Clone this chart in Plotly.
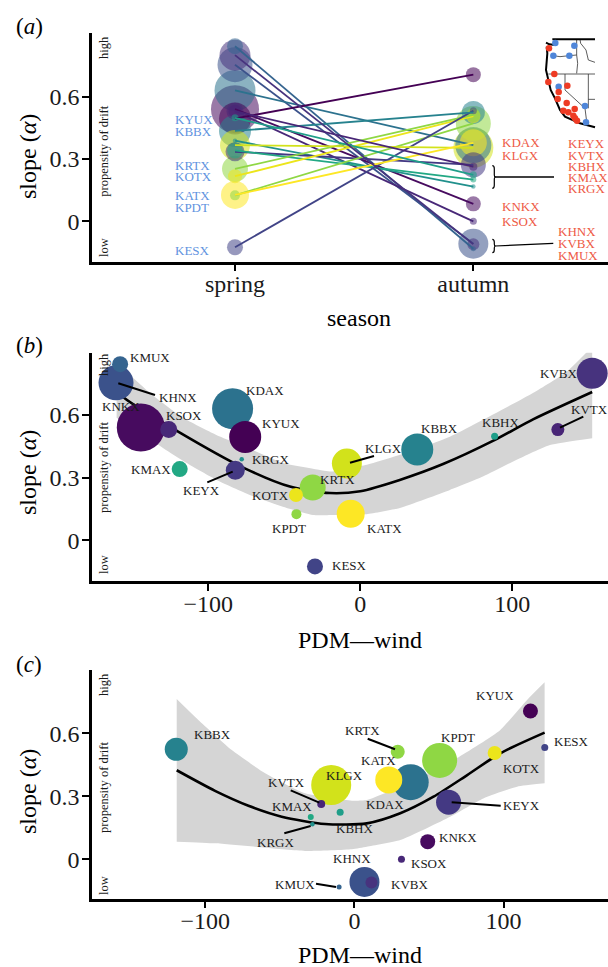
import plotly.graph_objects as go

W, H = 608, 967
FONT = "Liberation Serif"

# ---- data -------------------------------------------------------------
radars = ["KMUX","KHNX","KNKX","KSOX","KDAX","KYUX","KRGX","KEYX","KMAX","KOTX",
          "KPDT","KRTX","KESX","KLGX","KATX","KBBX","KBHX","KVTX","KVBX"]
colors = ["#35648f","#3b528b","#470b5f","#482878","#2c728e","#440154","#21908c","#443983","#22a884","#ece51b",
          "#8fd744","#8fd744","#414487","#d2e21b","#fde725","#26828e","#1f9e89","#482576","#47337e"]
wind_spring = [-158,-160.7,-144.4,-126,-84,-75.7,-78,-82.2,-118.8,-42.3,
               -42,-31.3,-29.8,-8.8,-6.3,37.5,88.4,130,152.6]
slope_spring = [0.843,0.754,0.540,0.530,0.630,0.495,0.388,0.335,0.341,0.217,
                0.125,0.2525,-0.125,0.367,0.127,0.435,0.498,0.530,0.800]
size_spring = [16,35,48,17,41,32,4.5,19,16,14,10,26,16,30,28,32,7,13,31]
wind_autumn = [-10.3,6.7,49.1,31.5,37.7,118,-28.2,63.1,-29.3,94,
               57.1,29,127.6,-15.6,23,-119.5,-9.6,-22.3,11.4]
slope_autumn = [-0.132,-0.108,0.084,0.0,0.367,0.706,0.167,0.272,0.201,0.506,
                0.471,0.512,0.532,0.354,0.378,0.524,0.224,0.263,-0.110]
size_autumn = [5,30,15,7,36,15,4.5,25,6,14,35,14,7,40,27,23,7,8,12]

b_curve_x = [-160.3,-155,-120.4,-77,-46.3,-20,0,26,54.5,87.6,114,152.6]
b_curve_y = [0.72,0.68,0.523,0.348,0.257,0.226,0.235,0.289,0.365,0.477,0.580,0.710]
b_up_x = [-160.3,-151.5,-138.4,-116.6,-95,-68.2,-50.9,-26.5,-18,4.2,26.1,59,113.6,135.8,152.6]
b_up_y = [0.863,0.792,0.705,0.586,0.505,0.424,0.370,0.337,0.329,0.361,0.409,0.496,0.705,0.807,0.927]
b_lo_x = [-160.3,-129.8,-114.2,-94.5,-72.6,-50.9,-31.1,-18,4.2,26.1,59,80.7,102.9,124.8,152.6]
b_lo_y = [0.586,0.442,0.370,0.289,0.217,0.161,0.121,0.121,0.125,0.155,0.241,0.305,0.385,0.456,0.489]

c_curve_x = [-119.2,-93.5,-71.1,-48.8,-19.7,8.3,30.7,53,75.6,97.8,127.5]
c_curve_y = [0.424,0.326,0.255,0.203,0.168,0.171,0.219,0.298,0.401,0.505,0.603]
c_up_x = [-119.2,-104.7,-82.3,-59.9,-33.1,-1.7,8.3,30.7,68.7,97.8,115.7,127.5]
c_up_y = [0.763,0.663,0.520,0.410,0.314,0.279,0.282,0.345,0.482,0.616,0.759,0.843]
c_lo_x = [-119.2,-93.5,-59.9,-33.1,-1.7,8.3,30.7,64.2,86.4,109,127.5]
c_lo_y = [0.084,0.076,0.055,0.040,0.048,0.060,0.092,0.203,0.290,0.346,0.362]

# inset map (own small axis)
map_blue_x = [76,133,70,118,86,165,168]
map_blue_y = [39,47,77,77,170,228,277]
map_red_x = [57,73,55,112,86,83,110,100,115,134,130,135,141]
map_red_y = [55,132,156,167,186,207,219,242,247,237,257,265,272]
map_coast_x = [48,58,75,None,50,52,48,55,62,75,90,105,125,150,195]
map_coast_y = [38,43,45,None,50,70,120,150,180,205,240,260,270,280,292]
map_border_x = [67,195]
map_border_y = [28,28]
map_states = [
    ([70,90,118,140,143,140],[77,80,77,75,100,130]),
    ([150,152,168,175,195],[28,40,60,90,97]),
    ([140,140],[28,75]),
    ([55,195],[132,132]),
    ([105,105,165,170],[132,180,235,275]),
    ([175,175],[132,235]),
    ([175,195],[208,208]),
]

# ---- helpers ----------------------------------------------------------
def fx(p): return p / W
def fy(p): return 1 - p / H

fig = go.Figure()
annos, shapes = [], []

def text(s, x, y, size=13, color="#1a1a1a", angle=0, anchor="center"):
    annos.append(dict(text=s, x=fx(x), y=fy(y), xref="paper", yref="paper", showarrow=False,
                      font=dict(family=FONT, size=size, color=color), textangle=angle,
                      xanchor=anchor, yanchor="middle", align="center"))

def seg(x0, y0, x1, y1, w=2):
    shapes.append(dict(type="line", xref="paper", yref="paper", x0=fx(x0), y0=fy(y0), x1=fx(x1), y1=fy(y1),
                       line=dict(color="black", width=w)))

def bracket(x, y0, y1, tip):
    m = (y0 + y1) / 2
    path = (f"M {fx(x)} {fy(y0)} Q {fx(x+2)} {fy(y0)} {fx(x+2)} {fy(y0+3)} L {fx(x+2)} {fy(m-2)} "
            f"Q {fx(x+2)} {fy(m)} {fx(tip)} {fy(m)} Q {fx(x+2)} {fy(m)} {fx(x+2)} {fy(m+2)} "
            f"L {fx(x+2)} {fy(y1-3)} Q {fx(x+2)} {fy(y1)} {fx(x)} {fy(y1)}")
    shapes.append(dict(type="path", xref="paper", yref="paper", path=path, line=dict(color="black", width=1.2)))

def band(xu, yu, xl, yl, axis):
    soft = dict(width=0, color="#d5d5d5", shape="spline", smoothing=0.5)
    fig.add_trace(go.Scatter(x=xl, y=yl, mode="lines", line=soft, xaxis="x" + axis, yaxis="y" + axis))
    fig.add_trace(go.Scatter(x=xu, y=yu, mode="lines", line=soft, fill="tonexty", fillcolor="#d5d5d5",
                             xaxis="x" + axis, yaxis="y" + axis))

# ---- panel a ----------------------------------------------------------
order = sorted(range(len(radars)), key=lambda i: -size_spring[i])
for i in order:
    fig.add_trace(go.Scatter(x=["spring"], y=[slope_spring[i]], mode="markers",
                             marker=dict(size=size_spring[i], color=colors[i], opacity=0.55, line=dict(width=0)),
                             xaxis="x", yaxis="y"))
order2 = sorted(range(len(radars)), key=lambda i: -size_autumn[i])
for i in order2:
    fig.add_trace(go.Scatter(x=["autumn"], y=[slope_autumn[i]], mode="markers",
                             marker=dict(size=size_autumn[i], color=colors[i], opacity=0.55, line=dict(width=0)),
                             xaxis="x", yaxis="y"))
for i in range(len(radars)):
    fig.add_trace(go.Scatter(x=["spring", "autumn"], y=[slope_spring[i], slope_autumn[i]], mode="lines",
                             line=dict(color=colors[i], width=1.8), xaxis="x", yaxis="y"))

# ---- panel b ----------------------------------------------------------
band(b_up_x, b_up_y, b_lo_x, b_lo_y, "2")
fig.add_trace(go.Scatter(x=b_curve_x, y=b_curve_y, mode="lines", xaxis="x2", yaxis="y2",
                         line=dict(color="black", width=2.6, shape="spline", smoothing=0.7)))
for i in order:
    fig.add_trace(go.Scatter(x=[wind_spring[i]], y=[slope_spring[i]], mode="markers", xaxis="x2", yaxis="y2",
                             marker=dict(size=size_spring[i], color=colors[i], line=dict(width=0))))

# ---- panel c ----------------------------------------------------------
band(c_up_x, c_up_y, c_lo_x, c_lo_y, "3")
fig.add_trace(go.Scatter(x=c_curve_x, y=c_curve_y, mode="lines", xaxis="x3", yaxis="y3",
                         line=dict(color="black", width=2.6, shape="spline", smoothing=0.7)))
for i in order2:
    fig.add_trace(go.Scatter(x=[wind_autumn[i]], y=[slope_autumn[i]], mode="markers", xaxis="x3", yaxis="y3",
                             marker=dict(size=size_autumn[i], color=colors[i], line=dict(width=0))))

# ---- inset map --------------------------------------------------------
for sx, sy in map_states:
    fig.add_trace(go.Scatter(x=sx, y=sy, mode="lines", xaxis="x4", yaxis="y4",
                             line=dict(color="#333333", width=0.8)))
fig.add_trace(go.Scatter(x=map_coast_x, y=map_coast_y, mode="lines", xaxis="x4", yaxis="y4",
                         line=dict(color="black", width=2)))
fig.add_trace(go.Scatter(x=map_border_x, y=map_border_y, mode="lines", xaxis="x4", yaxis="y4",
                         line=dict(color="black", width=2)))
fig.add_trace(go.Scatter(x=map_blue_x, y=map_blue_y, mode="markers", xaxis="x4", yaxis="y4",
                         marker=dict(size=6.5, color="#4f86d9")))
fig.add_trace(go.Scatter(x=map_red_x, y=map_red_y, mode="markers", xaxis="x4", yaxis="y4",
                         marker=dict(size=6.5, color="#ee3b24")))

# ---- labels -----------------------------------------------------------
BLUE, RED = "#5f93e0", "#ee5a45"
for s, y in [("KYUX",119.7),("KBBX",131.7),("KRTX",165.7),("KOTX",176.7),("KATX",195.7),("KPDT",207.7),("KESX",250.7)]:
    text(s, 173, y, color=BLUE, anchor="left")
for s, x, y in [("KDAX",500,143),("KLGX",500,155),("KEYX",566,144),("KVTX",566,155),("KBHX",566,166),
                ("KMAX",566,177),("KRGX",566,188),("KNKX",500,206),("KSOX",500,222),
                ("KHNX",556,231.7),("KVBX",556,243.5),("KMUX",556,255)]:
    text(s, x, y, color=RED, anchor="left")
bracket(492.3, 165.7, 188.3, 495.5)
seg(495, 177, 554, 177, 1.5)
bracket(492.3, 239.3, 252.7, 495.5)
seg(495, 246, 553.3, 243.3, 1.2)

for s, x, y in [("KMUX",149.7,357.7),("KHNX",177.7,397.7),("KNKX",121,406.7),("KSOX",184,415),("KDAX",265.3,390),
                ("KYUX",281,423),("KRGX",270.3,459.7),("KMAX",150.7,469.7),("KEYX",201.7,490.7),("KOTX",270,495.7),
                ("KPDT",289.3,528.7),("KRTX",337.7,479),("KATX",384,528.7),("KESX",349,565.7),("KLGX",383.3,448.7),
                ("KBBX",439.3,428.7),("KBHX",500.3,422.7),("KVBX",558.7,373.3),("KVTX",589,409)]:
    text(s, x, y)
seg(118.3, 383.3, 155, 395)
seg(207.3, 482.3, 232.7, 471.7)
seg(350, 462.7, 374, 456)
seg(560, 427.7, 583.3, 416.7)

for s, x, y in [("KBBX",212.7,734.7),("KVTX",286.7,782.7),("KMAX",292.3,806.7),("KRGX",275.3,842.7),("KMUX",294.7,884.7),
                ("KYUX",494.7,695.7),("KESX",571,741.7),("KRTX",362,730.7),("KPDT",458.3,737.3),("KATX",378,760.7),
                ("KLGX",344,775.7),("KOTX",521,768.7),("KDAX",385.3,804.7),("KEYX",521.7,805.7),("KBHX",354.7,828.7),
                ("KNKX",457.7,837.7),("KHNX",352.3,858.7),("KSOX",429,863.7),("KVBX",409,884.7)]:
    text(s, x, y)
seg(290.7, 790.3, 319.3, 802.7)
seg(284.3, 833.3, 310.7, 826)
seg(316, 883.7, 336, 887)
seg(367.7, 738.7, 395, 749.3)
seg(451.7, 802.3, 500.7, 805.7)

for tag, ytitle, yslope, yh, yp, yl in [("a",26,157,48,151.7,248),("b",345,473,365,468,565),("c",664,792,685,788,886)]:
    text(f"(<i>{tag}</i>)", 14, ytitle, size=23, color="black", anchor="left")
    text("slope (<i>α</i>)", 28, yslope, size=24, color="black", angle=-90)
    text("high", 104, yh, size=12.5, angle=-90)
    text("propensity of drift", 104, yp, size=12.5, angle=-90)
    text("low", 104, yl, size=12.5, angle=-90)
text("season", 359, 318, size=24, color="black")
text("PDM—wind", 360, 640, size=24, color="black")
text("PDM—wind", 360, 955, size=24, color="black")

# ---- axes -------------------------------------------------------------
def ax(**kw):
    base = dict(showline=True, linecolor="black", linewidth=2.6, ticks="outside", ticklen=7, tickwidth=2.2,
                tickcolor="black", showgrid=False, zeroline=False,
                tickfont=dict(family=FONT, size=24, color="#1a1a1a"))
    base.update(kw)
    return base

xd = [92 / W, 1]
fig.update_layout(
    width=W, height=H, margin=dict(l=0, r=0, t=0, b=0), autosize=False,
    paper_bgcolor="white", plot_bgcolor="rgba(0,0,0,0)", showlegend=False,
    hovermode=False, annotations=annos, shapes=shapes,
    xaxis=ax(domain=xd, anchor="y", type="category", categoryorder="array", ticklabelstandoff=-8,
             categoryarray=["spring", "autumn"], range=[-0.6, 1.565]),
    yaxis=ax(domain=[fy(261.5), fy(33)], anchor="x", range=[-0.1935, 0.9066], ticklabelstandoff=-2,
             tickvals=[0, 0.3, 0.6], ticktext=["0", "0.3", "0.6"]),
    xaxis2=ax(domain=xd, anchor="y2", range=[-176.5, 163], tickvals=[-100, 0, 100], ticklabelstandoff=-8),
    yaxis2=ax(domain=[fy(581), fy(352.7)], anchor="x2", range=[-0.195, 0.898], ticklabelstandoff=-2,
              tickvals=[0, 0.3, 0.6], ticktext=["0", "0.3", "0.6"]),
    xaxis3=ax(domain=xd, anchor="y3", range=[-176, 170], tickvals=[-100, 0, 100], ticklabelstandoff=-8),
    yaxis3=ax(domain=[fy(898.5), fy(670)], anchor="x3", range=[-0.1867, 0.9014], ticklabelstandoff=-2,
              tickvals=[0, 0.3, 0.6], ticktext=["0", "0.3", "0.6"]),
    xaxis4=dict(domain=[530 / W, 1], anchor="y4", range=[0, 234], visible=False),
    yaxis4=dict(domain=[fy(130), fy(30)], anchor="x4", range=[300, 0], visible=False),
)

fig.write_html("out.html", config={"displayModeBar": False},
               post_script="document.body.style.margin='0';document.body.style.overflow='hidden';")
